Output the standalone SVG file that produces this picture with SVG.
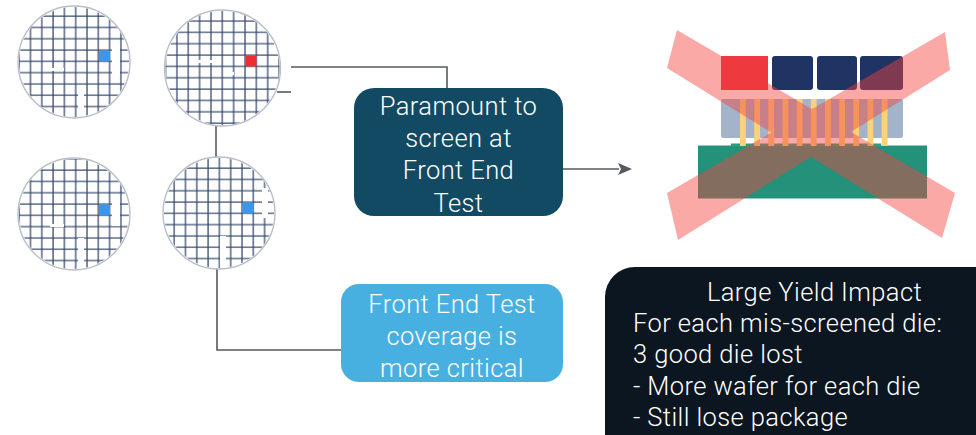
<svg xmlns="http://www.w3.org/2000/svg" width="976" height="435" viewBox="0 0 976 435">
  <style>
    .wafer-edge { fill: #ffffff; stroke: #b9bec8; stroke-width: 1.4; }
    .grid-line { stroke: #34476a; stroke-width: 1.25; fill: none; }
    .gap { fill: #ffffff; }
    .conn { fill: none; stroke: #555a60; stroke-width: 1.6; }
    .label { font-family: Roboto, "Liberation Sans", Arial, sans-serif; font-weight: 300; font-size: 25.5px; letter-spacing: 0.4px; fill: #ffffff; }
    .mid { text-anchor: middle; }
  </style>
  <defs>
    <pattern id="grid1" patternUnits="userSpaceOnUse" x="97.3" y="49" width="11.3" height="11.3">
      <path class="grid-line" d="M1 0V11.3M0 1H11.3"/>
    </pattern>
    <pattern id="grid2" patternUnits="userSpaceOnUse" x="244" y="54" width="11.35" height="11.35">
      <path class="grid-line" d="M1 0V11.35M0 1H11.35"/>
    </pattern>
    <pattern id="grid3" patternUnits="userSpaceOnUse" x="97.3" y="203" width="11.3" height="11.3">
      <path class="grid-line" d="M1 0V11.3M0 1H11.3"/>
    </pattern>
    <pattern id="grid4" patternUnits="userSpaceOnUse" x="241" y="201" width="11.3" height="11.3">
      <path class="grid-line" d="M1 0V11.3M0 1H11.3"/>
    </pattern>
    <marker id="arrowhead" viewBox="0 0 14 12" refX="1" refY="6" markerWidth="14" markerHeight="12" markerUnits="userSpaceOnUse" orient="auto">
      <path d="M0 0L14 6L0 12L3 6Z" fill="#555a60"/>
    </marker>
  </defs>

  <rect width="976" height="435" fill="#ffffff"/>

  <!-- connectors -->
  <g id="connectors">
    <path class="conn" d="M291 67H447V88" stroke-width="2"/>
    <path class="conn" d="M277 92H291"/>
    <path class="conn" d="M216 126V158"/>
    <path class="conn" d="M217 268V350H341"/>
    <path class="conn" d="M563 169H619" stroke-width="2" marker-end="url(#arrowhead)"/>
  </g>

  <!-- wafer with one failing die (blue) -->
  <g id="wafer-1">
    <circle class="wafer-edge" cx="74" cy="62" r="56"/>
    <circle cx="74" cy="62" r="55" fill="url(#grid1)"/>
    <rect class="gap" x="50" y="68" width="14" height="3"/>
    <rect class="gap" x="78" y="86" width="6" height="30"/>
    <rect class="gap" x="112" y="44" width="8" height="30"/>
    <rect x="99" y="50.6" width="10.8" height="10.8" fill="#3b97ee"/>
  </g>

  <!-- wafer with the mis-screened die (red) -->
  <g id="wafer-2">
    <circle class="wafer-edge" cx="222.5" cy="68" r="58"/>
    <circle cx="222.5" cy="68" r="57" fill="url(#grid2)"/>
    <rect class="gap" x="198" y="60" width="16" height="3"/>
    <rect class="gap" x="224" y="72" width="10" height="3"/>
    <rect x="245.6" y="55.6" width="10.8" height="10.8" fill="#ee2d2f"/>
  </g>

  <g id="wafer-3">
    <circle class="wafer-edge" cx="74" cy="214" r="56"/>
    <circle cx="74" cy="214" r="55" fill="url(#grid3)"/>
    <rect class="gap" x="50" y="224" width="14" height="3"/>
    <rect class="gap" x="78" y="238" width="6" height="30"/>
    <rect class="gap" x="112" y="196" width="8" height="30"/>
    <rect x="99" y="204.6" width="10.8" height="10.8" fill="#3b97ee"/>
  </g>

  <g id="wafer-4">
    <circle class="wafer-edge" cx="219" cy="213" r="56"/>
    <circle cx="219" cy="213" r="55" fill="url(#grid4)"/>
    <rect class="gap" x="220" y="236" width="6" height="32"/>
    <rect class="gap" x="262" y="188" width="6" height="30"/>
    <rect x="242.6" y="202.6" width="10.8" height="10.8" fill="#3b97ee"/>
  </g>

  <!-- rejected package: dies on interposer on substrate, crossed out -->
  <g id="package">
    <rect x="721" y="99" width="182" height="39" rx="2" fill="#a3b3c9"/>
    <rect x="698" y="145.5" width="229" height="53" fill="#24917a"/>
    <rect x="731" y="143.5" width="150" height="3" fill="#2e9c80"/>
    <g fill="#fbd27a">
      <rect x="740" y="99" width="5.8" height="47"/>
      <rect x="754.2" y="99" width="5.8" height="47"/>
      <rect x="768.3" y="99" width="5.8" height="47"/>
      <rect x="782.5" y="99" width="5.8" height="47"/>
      <rect x="796.7" y="99" width="5.8" height="47"/>
      <rect x="810.8" y="99" width="5.8" height="47"/>
      <rect x="825" y="99" width="5.8" height="47"/>
      <rect x="839.2" y="99" width="5.8" height="47"/>
      <rect x="853.3" y="99" width="5.8" height="47"/>
      <rect x="867.5" y="99" width="5.8" height="47"/>
      <rect x="881.7" y="99" width="5.8" height="47"/>
    </g>
    <g fill="#1f3462">
      <rect x="772" y="56" width="41" height="34" rx="3"/>
      <rect x="817" y="56" width="40" height="34" rx="3"/>
      <rect x="860" y="56" width="43" height="34" rx="3"/>
    </g>
    <g opacity="0.45" fill="#f4433e">
      <path d="M677 30L955 193L942 238L667 68Z"/>
      <path d="M945 32L950 70L678 240L667 193Z"/>
    </g>
    <rect x="721" y="56" width="47" height="34" fill="#ee3a3f"/>
  </g>

  <g id="box-front-end-test">
    <rect x="354" y="88" width="209" height="128" rx="20" fill="#134a63"/>
    <text class="label mid" x="458.5" y="115">Paramount to</text>
    <text class="label mid" x="458.5" y="147">screen at</text>
    <text class="label mid" x="458.5" y="179">Front End</text>
    <text class="label mid" x="458.5" y="212">Test</text>
  </g>

  <g id="box-coverage">
    <rect x="341" y="284" width="222" height="98" rx="18" fill="#48b0e0"/>
    <text class="label mid" x="452" y="313">Front End Test</text>
    <text class="label mid" x="452" y="345">coverage is</text>
    <text class="label mid" x="452" y="377">more critical</text>
  </g>

  <g id="box-yield-impact">
    <rect x="605" y="267" width="400" height="200" rx="30" fill="#0c1621"/>
    <text class="label mid" x="814.5" y="301">Large Yield Impact</text>
    <text class="label" x="633" y="332">For each mis-screened die:</text>
    <text class="label" x="633" y="363">3 good die lost</text>
    <text class="label" x="633" y="395">- More wafer for each die</text>
    <text class="label" x="633" y="426">- Still lose package</text>
  </g>
</svg>
